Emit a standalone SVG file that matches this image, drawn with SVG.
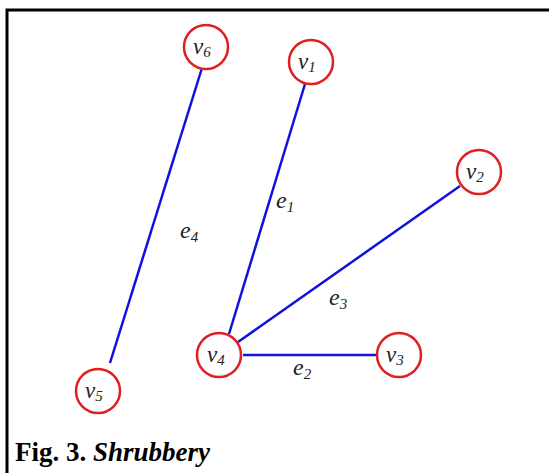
<svg xmlns="http://www.w3.org/2000/svg" width="549" height="473" viewBox="0 0 549 473">
<style>
.node circle{fill:#fff;stroke:#e02020;stroke-width:2.5}
.node text,.lbl{font-family:"Liberation Serif",serif;font-style:italic;fill:#222}
.node text{font-size:23px}
.lbl{font-size:24px}
.sub{font-size:15px}
.edges line{stroke:#1010e0;stroke-width:2.5}
.cap{font-family:"Liberation Serif",serif;font-weight:bold;font-size:27px;fill:#000}
</style>
<rect width="549" height="473" fill="#fff"/>
<path d="M7,473 V10 H549" fill="none" stroke="#000" stroke-width="3"/>
<g class="edges">
<line x1="202" y1="68" x2="110" y2="363"/>
<line x1="305" y1="84" x2="229" y2="334"/>
<line x1="460" y1="186" x2="238" y2="342"/>
<line x1="243" y1="355" x2="376" y2="355"/>
</g>
<g id="v6" class="node"><circle cx="206" cy="47" r="22"/><text x="193" y="54">v<tspan class="sub" dy="3">6</tspan></text></g>
<g id="v1" class="node"><circle cx="311" cy="62" r="22"/><text x="298" y="69">v<tspan class="sub" dy="3">1</tspan></text></g>
<g id="v2" class="node"><circle cx="479" cy="172" r="22"/><text x="466" y="179">v<tspan class="sub" dy="3">2</tspan></text></g>
<g id="v4" class="node"><circle cx="219" cy="355" r="22"/><text x="207" y="362">v<tspan class="sub" dy="3">4</tspan></text></g>
<g id="v3" class="node"><circle cx="399" cy="355" r="22"/><text x="386" y="362">v<tspan class="sub" dy="3">3</tspan></text></g>
<g id="v5" class="node"><circle cx="98" cy="391" r="22"/><text x="85" y="398">v<tspan class="sub" dy="3">5</tspan></text></g>
<text class="lbl" x="180" y="238">e<tspan class="sub" dy="4">4</tspan></text>
<text class="lbl" x="276" y="208">e<tspan class="sub" dy="4">1</tspan></text>
<text class="lbl" x="329" y="305">e<tspan class="sub" dy="4">3</tspan></text>
<text class="lbl" x="293" y="375">e<tspan class="sub" dy="4">2</tspan></text>
<text class="cap" x="15" y="461">Fig. 3. <tspan font-style="italic">Shrubbery</tspan></text>
</svg>
